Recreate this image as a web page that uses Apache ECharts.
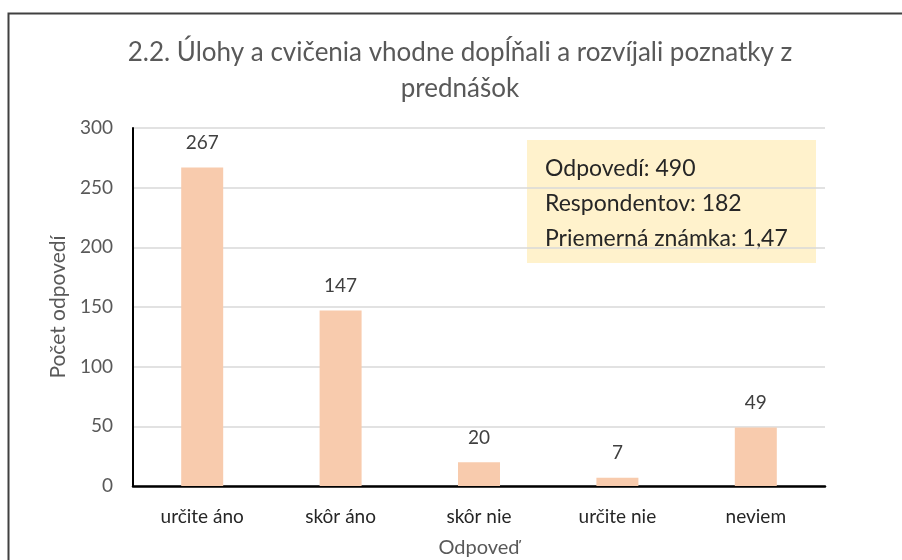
<!DOCTYPE html>
<html>
<head>
<meta charset="utf-8">
<script src="https://cdn.jsdelivr.net/npm/echarts@6/dist/echarts.min.js"></script>
<style>
  html, body { margin: 0; padding: 0; background: #fff; }
  #chart { width: 902px; height: 560px; }
</style>
</head>
<body>
<div id="chart"></div>
<script>
// data
const categories = ['určite áno', 'skôr áno', 'skôr nie', 'určite nie', 'neviem'];
const counts = [267, 147, 20, 7, 49];
const statsLines = ['Odpovedí: 490', 'Respondentov: 182', 'Priemerná známka: 1,47'];

const font = 'Lato, "Open Sans", sans-serif';
const chart = echarts.init(document.getElementById('chart'));

chart.setOption({
  animation: false,
  textStyle: { fontFamily: font },
  title: {
    text: '2.2. Úlohy a cvičenia vhodne dopĺňali a rozvíjali poznatky z\nprednášok',
    left: 455,
    top: 30,
    textAlign: 'center',
    textStyle: { color: '#595959', fontSize: 26, fontWeight: 'normal', lineHeight: 36, fontFamily: font }
  },
  grid: { left: 133, right: 77, top: 128, bottom: 74, outerBoundsMode: 'none' },
  xAxis: {
    type: 'category',
    data: categories,
    name: 'Odpoveď',
    nameLocation: 'middle',
    nameGap: 52,
    nameTextStyle: { color: '#595959', fontSize: 20, fontFamily: font },
    axisLine: { lineStyle: { color: '#000', width: 2.5 } },
    axisTick: { show: false },
    axisLabel: { color: '#262626', fontSize: 19, margin: 21, fontFamily: font }
  },
  yAxis: {
    type: 'value',
    min: 0,
    max: 300,
    interval: 50,
    name: 'Počet odpovedí',
    nameLocation: 'middle',
    nameGap: 56,
    nameTextStyle: { color: '#595959', fontSize: 21, fontFamily: font },
    axisLine: { show: true, lineStyle: { color: '#000', width: 2 } },
    axisTick: { show: false },
    axisLabel: { color: '#595959', fontSize: 19, margin: 20, fontFamily: font },
    splitLine: { lineStyle: { color: '#d9d9d9', width: 1.5 } }
  },
  series: [{
    type: 'bar',
    data: counts,
    barWidth: 42,
    itemStyle: { color: '#f8cbad' },
    label: { show: true, position: 'top', distance: 15, color: '#404040', fontSize: 19, fontFamily: font }
  }],
  graphic: [
    {
      type: 'rect',
      silent: true,
      shape: { x: 8.5, y: 13.5, width: 1000, height: 1000 },
      style: { fill: 'none', stroke: '#404040', lineWidth: 2 }
    },
    {
      type: 'group',
      left: 527,
      top: 140,
      children: [
        { type: 'rect', shape: { x: 0, y: 0, width: 289, height: 123 }, style: { fill: '#fff2cc' } },
        {
          type: 'text',
          left: 18,
          top: 11,
          style: { text: statsLines.join('\n'), fill: '#262626', font: '23px ' + font, lineHeight: 35 }
        }
      ]
    }
  ]
});
</script>
</body>
</html>
